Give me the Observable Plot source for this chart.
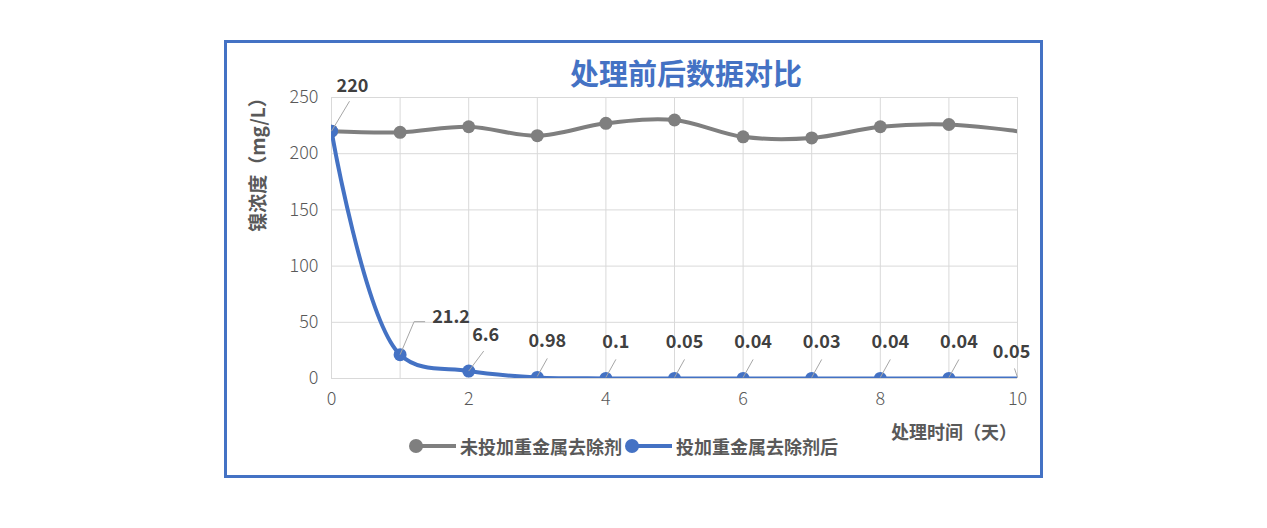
<!DOCTYPE html>
<html><head><meta charset="utf-8">
<script src="https://cdn.jsdelivr.net/npm/d3@7"></script>
<script src="https://cdn.jsdelivr.net/npm/@observablehq/plot@0.6"></script>
<style>
html,body{margin:0;padding:0;background:#fff;}
body{width:1267px;height:528px;position:relative;overflow:hidden;font-family:"Noto Sans CJK SC","Noto Sans",sans-serif;}
#frame{position:absolute;left:224px;top:40px;width:813px;height:432px;border:3px solid #4472C4;background:#fff;}
#title{position:absolute;left:343px;top:11px;width:232px;text-align:center;font-size:29px;font-weight:bold;color:#4472C4;line-height:36px;white-space:nowrap;}
#ylab{position:absolute;left:29px;top:117px;width:0;height:0;}
#ylab span{position:absolute;transform:translate(-50%,-50%) rotate(-90deg);white-space:nowrap;font-size:19px;font-weight:bold;color:#595959;}
#chart{position:absolute;left:0;top:42px;}
#xlab{position:absolute;right:23px;top:376px;font-size:18px;font-weight:bold;color:#595959;white-space:nowrap;line-height:24px;}
#legend{position:absolute;left:179px;top:391px;display:flex;align-items:center;font-size:18px;font-weight:bold;color:#595959;white-space:nowrap;line-height:24px;letter-spacing:0px;}
.sym{position:relative;width:50px;height:14px;display:inline-block;margin-right:4px;}
.sym i{position:absolute;left:10px;right:0;top:5px;height:4px;}
.sym b{position:absolute;left:3px;top:0px;width:14px;height:14px;border-radius:50%;}
</style></head>
<body>
<div id="frame">
  <div id="title">处理前后数据对比</div>
  <div id="ylab"><span>镍浓度（mg/L）</span></div>
  <div id="chart"></div>
  <div id="xlab">处理时间（天）</div>
  <div id="legend"></div>
</div>
<script>
const days = [0,1,2,3,4,5,6,7,8,9,10];
const untreated = [220,219,224,216,227,230,215,214,224,226,220];
const treated = [220,21.2,6.6,0.98,0.1,0.05,0.04,0.03,0.04,0.04,0.05];
const treatedLabels = ["220","21.2","6.6","0.98","0.1","0.05","0.04","0.03","0.04","0.04","0.05"];
const seriesNames = ["未投加重金属去除剂","投加重金属去除剂后"];
const seriesColors = ["#7f7f7f","#4472C4"];
const xTicks = [0,2,4,6,8,10];
const yTicks = [0,50,100,150,200,250];

const rowsA = days.map((d,i)=>({x:d, v:untreated[i]}));
const rowsB = days.map((d,i)=>({x:d, v:treated[i], label:treatedLabels[i], i}));

const W = 813, H = 330, mL = 104, mR = 23, mT = 12, mB = 37;
const pxX = (W-mL-mR)/10, pxY = (H-mT-mB)/250;
const leaderEnd = r => {
  if (r.i===0) return [[0,0],[18,-30]];
  if (r.i===1) return [[0,0],[14,-33],[25,-33]];
  if (r.i===2) return [[0,0],[15,-20]];
  if (r.i===10) return [[0,-1],[-3,-10]];
  return [[0,-1],[10,-19]];
};
const leaderSegs = [];
rowsB.forEach(r=>{
  const pts = leaderEnd(r);
  for (let k=0;k<pts.length-1;k++){
    leaderSegs.push({x1:r.x+pts[k][0]/pxX, y1:r.v-pts[k][1]/pxY, x2:r.x+pts[k+1][0]/pxX, y2:r.v-pts[k+1][1]/pxY});
  }
});

const labelOpts = {x:"x", y:"v", text:"label", fontSize:18, fontWeight:"bold", fill:"#404040"};
const plot = Plot.plot({
  width: W, height: H,
  marginLeft: mL, marginRight: mR, marginTop: mT, marginBottom: mB,
  x: {domain:[0,10], label:null},
  y: {domain:[0,250], label:null},
  style: {fontFamily:'"Noto Sans CJK SC","Noto Sans",sans-serif', background:"transparent", overflow:"visible"},
  marks: [
    Plot.gridX(days, {stroke:"#d9d9d9", strokeOpacity:1}),
    Plot.gridY(yTicks, {stroke:"#d9d9d9", strokeOpacity:1}),
    Plot.axisX(xTicks, {tickSize:0, tickPadding:14, fontSize:18, fontWeight:300, fill:"#595959", label:null}),
    Plot.axisY(yTicks, {tickSize:0, tickPadding:13, fontSize:18, fontWeight:300, fill:"#595959", label:null}),
    Plot.line(rowsA, {x:"x", y:"v", stroke:seriesColors[0], strokeWidth:4, curve:"catmull-rom", clip:true}),
    Plot.dot(rowsA.filter(r=>r.x<10), {x:"x", y:"v", r:6.5, fill:seriesColors[0], clip:true}),
    Plot.line(rowsB, {x:"x", y:"v", stroke:seriesColors[1], strokeWidth:4, curve:"catmull-rom", clip:true}),
    Plot.dot(rowsB.filter(r=>r.x<10), {x:"x", y:"v", r:6.5, fill:seriesColors[1], clip:true}),
    Plot.link(leaderSegs, {x1:"x1", y1:"y1", x2:"x2", y2:"y2", stroke:"#a6a6a6", strokeWidth:1}),
    Plot.text(rowsB.filter(r=>r.i===0), {...labelOpts, dx:21, dy:-45}),
    Plot.text(rowsB.filter(r=>r.i===1), {...labelOpts, dx:51, dy:-37}),
    Plot.text(rowsB.filter(r=>r.i===2), {...labelOpts, dx:17, dy:-36}),
    Plot.text(rowsB.filter(r=>r.i>=3 && r.i<=9), {...labelOpts, dx:10, dy:-36}),
    Plot.text(rowsB.filter(r=>r.i===10), {...labelOpts, dx:-6, dy:-26})
  ]
});
document.getElementById("chart").appendChild(plot);

const leg = document.getElementById("legend");
seriesNames.forEach((n,k)=>{
  const s = document.createElement("span"); s.className="sym";
  s.innerHTML = `<i style="background:${seriesColors[k]}"></i><b style="background:${seriesColors[k]}"></b>`;
  const t = document.createElement("span"); t.textContent = n;
  leg.appendChild(s); leg.appendChild(t);
});
</script>
</body></html>
